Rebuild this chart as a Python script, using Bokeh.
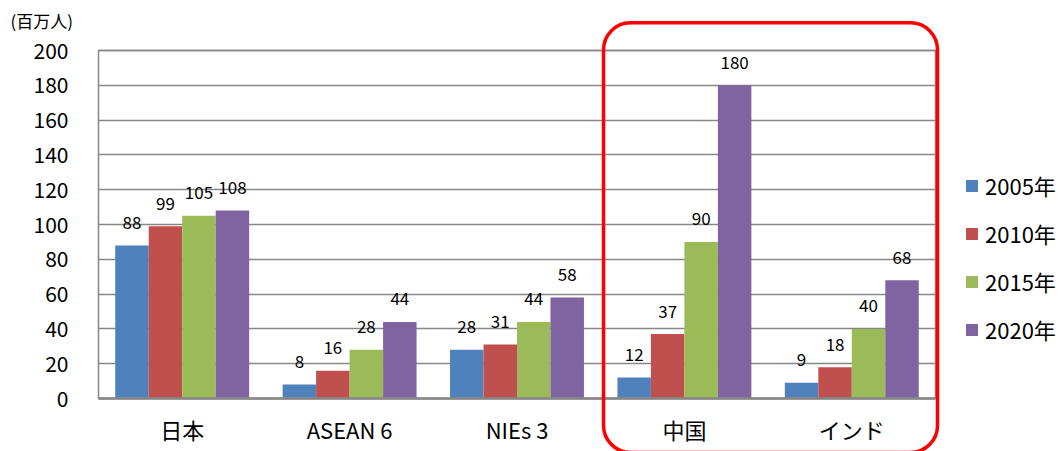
from bokeh.plotting import figure
from bokeh.models import (ColumnDataSource, Range1d, FixedTicker, Grid,
                          Legend, LegendItem, Label, BoxAnnotation)
from bokeh.core.properties import value
from bokeh.embed import file_html
from bokeh.resources import INLINE

# ---- data ----
categories = ["日本", "ASEAN 6", "NIEs 3", "中国", "インド"]
years = ["2005年", "2010年", "2015年", "2020年"]
v2005 = [88, 8, 28, 12, 9]
v2010 = [99, 16, 31, 37, 18]
v2015 = [105, 28, 44, 90, 40]
v2020 = [108, 44, 58, 180, 68]
y_ticks = [0, 20, 40, 60, 80, 100, 120, 140, 160, 180, 200]
unit_label = "(百万人)"

series = [v2005, v2010, v2015, v2020]
colors = ["#4F81BD", "#C0504D", "#9BBB59", "#8064A2"]
offsets = [-0.3, -0.1, 0.1, 0.3]
FONT = "Noto Sans CJK JP"
GRID = "#878787"

W, H = 1064, 451
# plot area in pixels: left 98, right 935, top 50 (=200), bottom 398 (=0)
n = len(categories)
px_x = (935 - 98) / n
px_y = (398 - 50) / 200.0
x_range = Range1d(-98 / px_x, (W - 98) / px_x)
y_range = Range1d(-(H - 398) / px_y, 398 / px_y)

p = figure(x_range=x_range, y_range=y_range,
           frame_width=W, frame_height=H,
           min_border=0, min_border_left=0, min_border_right=0,
           min_border_top=0, min_border_bottom=0,
           output_backend="svg", toolbar_location=None,
           background_fill_color="white", border_fill_color="white")
p.outline_line_color = None
p.xgrid.grid_line_color = None
p.ygrid.grid_line_color = None

cat_x = [i + 0.5 for i in range(n)]

# gridlines restricted to the plot area
if "cross_bounds" in Grid.properties():
    p.ygrid.grid_line_color = GRID
    p.ygrid.grid_line_width = 1.5
    p.ygrid.ticker = FixedTicker(ticks=y_ticks)
    p.ygrid.cross_bounds = (0, n)
else:
    p.segment(x0=[0] * len(y_ticks), x1=[n] * len(y_ticks), y0=y_ticks, y1=y_ticks,
              line_color=GRID, line_width=1.5)

# plot-area border
p.add_layout(BoxAnnotation(left=0, right=n, bottom=0, top=y_ticks[-1],
                           fill_alpha=0, line_color=GRID, line_alpha=1,
                           line_width=1.5))

renderers = []
for y, vals, col, off in zip(years, series, colors, offsets):
    src = ColumnDataSource(dict(x=[cx + off for cx in cat_x], top=vals,
                                lbl=[str(v) for v in vals]))
    r = p.vbar(x="x", top="top", width=0.2, source=src,
               fill_color=col, line_color=None)
    renderers.append(r)
    p.text(x="x", y="top", text="lbl", source=src,
           text_align="center", text_baseline="middle",
           y_offset=-23, text_font=value(FONT), text_font_size="17px",
           text_color="#000000")

# y axis (fixed at the plot-area's left edge)
ya = p.yaxis[0]
ya.fixed_location = 0
ya.bounds = (0, y_ticks[-1])
ya.ticker = FixedTicker(ticks=y_ticks)
ya.axis_line_color = None
ya.major_tick_line_color = None
ya.minor_tick_line_color = None
ya.major_tick_out = 0
ya.major_tick_in = 0
ya.major_label_standoff = 30
ya.major_label_text_font = FONT
ya.major_label_text_font_size = "21px"
ya.major_label_text_color = "#000000"

# x axis (fixed at y = 0)
xa = p.xaxis[0]
xa.fixed_location = 0
xa.bounds = (0, n)
xa.ticker = FixedTicker(ticks=cat_x)
xa.major_label_overrides = {cx: c for cx, c in zip(cat_x, categories)}
xa.axis_line_color = GRID
xa.axis_line_width = 2.5
xa.major_tick_line_color = None
xa.minor_tick_line_color = None
xa.major_tick_out = 0
xa.major_tick_in = 0
xa.major_label_standoff = 14
xa.major_label_text_font = FONT
xa.major_label_text_font_size = "22px"
xa.major_label_text_color = "#000000"

# unit label
p.add_layout(Label(x=10, y=H - 20, x_units="screen", y_units="screen",
                   text=unit_label, text_font=FONT, text_font_size="17px",
                   text_align="left", text_baseline="middle",
                   text_color="#000000"))

# red highlight box around 中国 / インド
p.add_layout(BoxAnnotation(left=3.017, right=5.012, top=215.9, bottom=-31,
                           fill_alpha=0, line_color="#FF0000", line_alpha=1,
                           line_width=3.5, border_radius=27))

legend = Legend(items=[LegendItem(label=y, renderers=[r]) for y, r in zip(years, renderers)],
                location=(964, 106), padding=0, margin=0, spacing=16,
                glyph_width=15, glyph_height=15, label_standoff=6,
                label_text_font=FONT, label_text_font_size="22px",
                label_text_color="#000000",
                border_line_color=None, background_fill_alpha=0)
p.add_layout(legend, "center")

open("out.html", "w").write(file_html(p, INLINE))
